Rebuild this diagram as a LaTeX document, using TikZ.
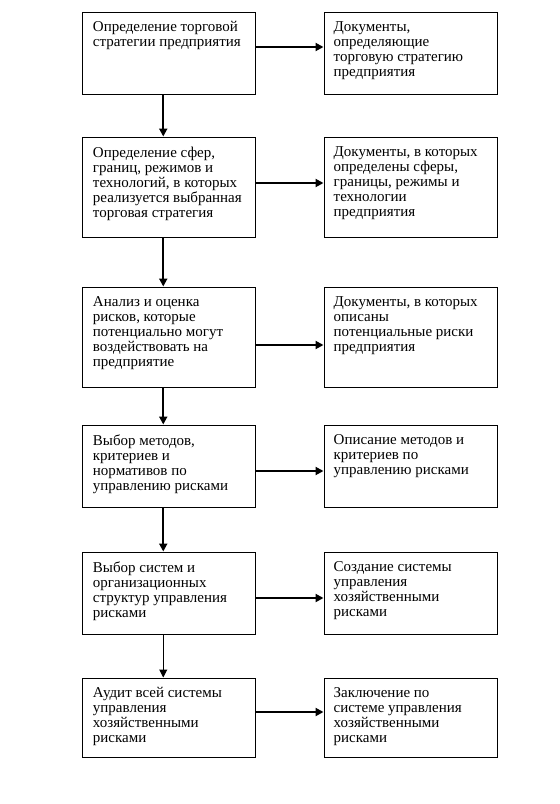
\documentclass[tikz,border=0pt]{standalone}
\usepackage{fontspec}
\setmainfont{Liberation Serif}
\usetikzlibrary{arrows.meta}
\begin{document}
\begin{tikzpicture}[x=1pt,y=-1pt,
  box/.style={draw, line width=1pt, minimum width=173pt, inner sep=0pt},
  txt/.style={anchor=north west, align=left, inner sep=0pt, font=\fontsize{15}{15}\selectfont},
  arr/.style={line width=2pt, -{Triangle[length=8pt,width=8pt]}},
  thinarr/.style={line width=1pt, -{Triangle[length=8pt,width=8pt]}}]
\useasboundingbox[fill=white] (0,0) rectangle (560,804);

% boxes
\node[box, minimum height=82pt]  (l1) at (168.75,53) {};
\node[box, minimum height=82pt]  (r1) at (410.5,53) {};
\node[box, minimum height=100pt] (l2) at (168.75,187) {};
\node[box, minimum height=100pt] (r2) at (410.5,187) {};
\node[box, minimum height=100pt] (l3) at (168.75,337) {};
\node[box, minimum height=100pt] (r3) at (410.5,337) {};
\node[box, minimum height=82pt]  (l4) at (168.75,466) {};
\node[box, minimum height=82pt]  (r4) at (410.5,466) {};
\node[box, minimum height=82pt]  (l5) at (168.75,593) {};
\node[box, minimum height=82pt]  (r5) at (410.5,593) {};
\node[box, minimum height=79pt]  (l6) at (168.75,717.5) {};
\node[box, minimum height=79pt]  (r6) at (410.5,717.5) {};

% texts
\node[txt, xshift=11pt, yshift=-10pt] (tl1) at (l1.north west) {Определение торговой\\стратегии предприятия};
\node[txt, xshift=10pt, yshift=-10pt] (tr1) at (r1.north west) {Документы,\\определяющие\\торговую стратегию\\предприятия};
\node[txt, xshift=11pt, yshift=-10pt] (tl2) at (l2.north west) {Определение сфер,\\границ, режимов и\\технологий, в которых\\реализуется выбранная\\торговая стратегия};
\node[txt, xshift=10pt, yshift=-10pt] (tr2) at (r2.north west) {Документы, в которых\\определены сферы,\\границы, режимы и\\технологии\\предприятия};
\node[txt, xshift=11pt, yshift=-10pt] (tl3) at (l3.north west) {Анализ и оценка\\рисков, которые\\потенциально могут\\воздействовать на\\предприятие};
\node[txt, xshift=10pt, yshift=-10pt] (tr3) at (r3.north west) {Документы, в которых\\описаны\\потенциальные риски\\предприятия};
\node[txt, xshift=11pt, yshift=-10pt] (tl4) at (l4.north west) {Выбор методов,\\критериев и\\нормативов по\\управлению рисками};
\node[txt, xshift=10pt, yshift=-10pt] (tr4) at (r4.north west) {Описание методов и\\критериев по\\управлению рисками};
\node[txt, xshift=11pt, yshift=-10pt] (tl5) at (l5.north west) {Выбор систем и\\организационных\\структур управления\\рисками};
\node[txt, xshift=10pt, yshift=-10pt] (tr5) at (r5.north west) {Создание системы\\управления\\хозяйственными\\рисками};
\node[txt, xshift=11pt, yshift=-10pt] (tl6) at (l6.north west) {Аудит всей системы\\управления\\хозяйственными\\рисками};
\node[txt, xshift=10pt, yshift=-10pt] (tr6) at (r6.north west) {Заключение по\\системе управления\\хозяйственными\\рисками};

% horizontal arrows
\draw[arr] ([yshift=6pt]l1.east) -- ([yshift=6pt]r1.west);
\draw[arr] ([yshift=4pt]l2.east) -- ([yshift=4pt]r2.west);
\draw[arr] ([yshift=-8pt]l3.east) -- ([yshift=-8pt]r3.west);
\draw[arr] ([yshift=-5pt]l4.east) -- ([yshift=-5pt]r4.west);
\draw[arr] ([yshift=-5pt]l5.east) -- ([yshift=-5pt]r5.west);
\draw[arr] ([yshift=5.5pt]l6.east) -- ([yshift=5.5pt]r6.west);

% vertical arrows
\draw[arr] ([xshift=-5.5pt]l1.south) -- ([xshift=-5.5pt]l2.north);
\draw[arr] ([xshift=-5.5pt]l2.south) -- ([xshift=-5.5pt]l3.north);
\draw[arr] ([xshift=-5.5pt]l3.south) -- ([xshift=-5.5pt]l4.north);
\draw[arr] ([xshift=-5.5pt]l4.south) -- ([xshift=-5.5pt]l5.north);
\draw[thinarr] ([xshift=-5.5pt]l5.south) -- ([xshift=-5.5pt]l6.north);
\end{tikzpicture}
\end{document}
